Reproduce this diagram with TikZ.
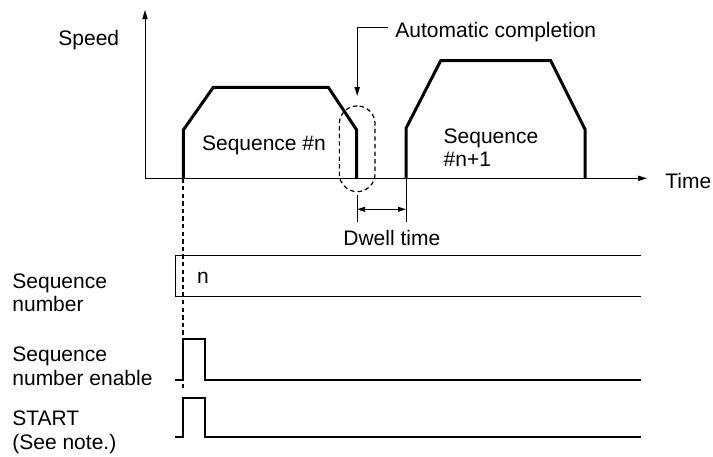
\documentclass[tikz,border=0pt]{standalone}
\usepackage{fontspec}
\setmainfont{Liberation Sans}
\usetikzlibrary{arrows.meta,positioning}

\begin{document}
\begin{tikzpicture}[x=0.5pt, y=-0.5pt,
  lbl/.style={inner sep=0pt, anchor=base west, align=left,
              font=\fontsize{10.5}{11.7}\selectfont},
  axis/.style={line width=0.5pt, -{Triangle[length=4.5pt,width=2.6pt]}},
  prof/.style={line width=1.5pt},
  sig/.style={line width=1pt},
  thin/.style={line width=0.5pt},
  dsh/.style={dash pattern=on 2.2pt off 1.6pt},
  dwell/.style={thin, {Triangle[length=4pt,width=2.4pt]}-{Triangle[length=4pt,width=2.4pt]}}]
  \useasboundingbox (0,0) rectangle (713,456);

  % axes
  \coordinate (o) at (145,178.3);
  \draw[axis] (o) -- (145,10);
  \draw[axis] (o) -- (647,178.3);
  \node[lbl] (speed) at (58,45.7) {Speed};
  \node[lbl] (time) at (665,188.3) {Time};

  % speed profiles
  \draw[prof] (183.3,178.3) -- (183.3,130) -- (213.3,87.3) -- (328.3,87.3)
    -- (356.7,130) -- (356.7,178.3);
  \draw[prof] (406,178.3) -- (406,128.3) -- (440.7,60.7) -- (550.7,60.7)
    -- (585,129.3) -- (585,178.3);
  \node[lbl] (seqn) at (201.7,150.7) {Sequence \#n};
  \node[lbl] (seqnx) at (443.3,166.7) {Sequence\\\#n+1};

  % automatic completion
  \node[draw, line width=0.6pt, dsh, rounded corners=8.9pt, inner sep=0pt,
        minimum width=17.85pt, minimum height=42.85pt] (compl) at (357.2,148.8) {};
  \node[lbl] (auto) at (395,37) {Automatic completion};
  \draw[thin, -{Triangle[length=4.5pt,width=2.6pt]}]
    ([xshift=-3.5pt, yshift=4.65pt]auto.base west) -| ([yshift=4.65pt]compl.north);

  % dwell time
  \coordinate (d1) at (357,209.3);
  \coordinate (d2) at (406,209.3);
  \draw[thin] (357,195) -- (357,221.7);
  \draw[thin] (406,178.3) -- (406,221.7);
  \draw[dwell] (d1) -- (d2);
  \node[lbl] (dwelltxt) at (343,245.7) {Dwell time};

  % signals
  \draw[line width=0.9pt, dsh] (183.3,178.3) -- (183.3,388);
  \draw[thin] (640.7,255.7) -| (175,296) -- (640.7,296);
  \node[lbl] (n) at (196.7,283.3) {n};
  \draw[sig] (175,380) -- (183.3,380) -- (183.3,339.3) -- (205,339.3)
    -- (205,380) -- (640.7,380);
  \draw[sig] (175,437.3) -- (183.3,437.3) -- (183.3,397.7) -- (205,397.7)
    -- (205,437.3) -- (640.7,437.3);

  \node[lbl] (seqnum) at (12,311.7) {Sequence\\number};
  \node[lbl] (seqen) at (12,385) {Sequence\\number enable};
  \node[lbl] (start) at (12,449) {START\\(See note.)};
\end{tikzpicture}
\end{document}
